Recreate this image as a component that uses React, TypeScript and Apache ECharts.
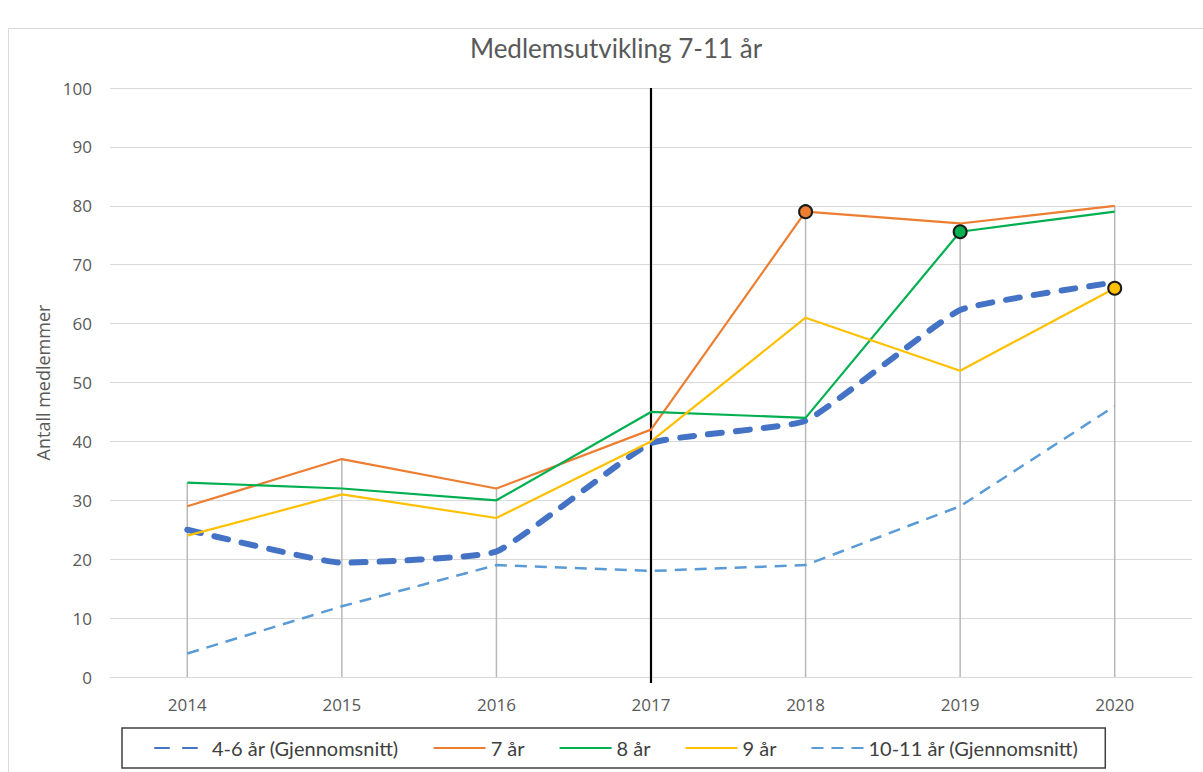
import React, { useEffect, useRef } from "react";
import * as echarts from "echarts";

const years = ["2014", "2015", "2016", "2017", "2018", "2019", "2020"];
const avg46 = [25, 19.4, 21.3, 39.7, 43.5, 62.3, 67];
const age7 = [29, 37, 32, 42, 79, 77, 80];
const age8 = [33, 32, 30, 45, 44, 75.6, 79];
const age9 = [24, 31, 27, 40, 61, 52, 66];
const avg1011 = [4, 12, 19, 18, 19, 29, 46];
const yMin = 0;
const yMax = 100;
const yInterval = 10;
const dividerYear = "2017";
const markIndex7 = 4;
const markIndex8 = 5;
const markIndex9 = 6;

const names = ["4-6 år (Gjennomsnitt)", "7 år", "8 år", "9 år", "10-11 år (Gjennomsnitt)"];
const colors = ["#4472C4", "#ED7D31", "#00B050", "#FFC000", "#5B9BD5"];

function withMarker(values: number[], idx: number, color: string) {
  return values.map((v, i) =>
    i === idx
      ? {
          value: v,
          symbol: "circle",
          symbolSize: 13,
          itemStyle: { color, borderColor: "#1a1a1a", borderWidth: 2, opacity: 1 },
        }
      : v
  );
}

export default function App() {
  const ref = useRef<HTMLDivElement>(null);
  useEffect(() => {
    if (!ref.current) return;
    const chart = echarts.init(ref.current, undefined, { renderer: "svg" });
    const maxPerYear = years.map((_, i) =>
      Math.max(avg46[i], age7[i], age8[i], age9[i], avg1011[i])
    );
    const dividerIndex = years.indexOf(dividerYear);
    const font = "Open Sans, sans-serif";
    chart.setOption({
      animation: false,
      backgroundColor: "#fff",
      title: {
        text: "Medlemsutvikling 7-11 år",
        left: 611,
        textAlign: "center",
        top: 30,
        textStyle: { fontFamily: "Lato, sans-serif", fontSize: 26, fontWeight: "normal", color: "#595959" },
      },
      graphic: [
        {
          type: "rect",
          shape: { x: 8.5, y: 28.5, width: 1200, height: 760 },
          style: { fill: "none", stroke: "#D9D9D9", lineWidth: 1 },
          silent: true,
          z: -1,
        },
      ],
      grid: { left: 110, right: 11, top: 88, bottom: 95, containLabel: false },
      legend: {
        data: names,
        left: 122,
        top: 728,
        padding: [10, 27, 10, 32],
        itemGap: 34,
        itemWidth: 52,
        itemHeight: 18,
        borderColor: "#404040",
        borderWidth: 1.5,
        itemStyle: { opacity: 0, borderWidth: 0 },
        textStyle: { fontFamily: "Lato, sans-serif", fontSize: 20, color: "#404040" },
      },
      xAxis: {
        type: "category",
        data: years,
        boundaryGap: true,
        axisLine: { show: true, lineStyle: { color: "#D9D9D9", width: 1 } },
        axisTick: { show: false },
        axisLabel: { fontFamily: font, fontSize: 17, color: "#595959", margin: 19 },
        splitLine: { show: false },
      },
      yAxis: {
        type: "value",
        min: yMin,
        max: yMax,
        interval: yInterval,
        name: "Antall medlemmer",
        nameLocation: "middle",
        nameGap: 50,
        nameTextStyle: { fontFamily: font, fontSize: 18, color: "#595959" },
        axisLine: { show: false },
        axisTick: { show: false },
        axisLabel: { fontFamily: font, fontSize: 17, color: "#595959", margin: 18 },
        splitLine: { lineStyle: { color: "#D9D9D9", width: 1 } },
      },
      series: [
        {
          name: "drop",
          type: "bar",
          data: maxPerYear,
          barWidth: 1.5,
          itemStyle: { color: "#B8B8B8" },
          silent: true,
          z: 1,
        },
        {
          name: "divider",
          type: "custom",
          silent: true,
          z: 2,
          data: [[dividerIndex, yMax]],
          renderItem: (params: any, api: any) => {
            const top = api.coord([api.value(0), yMax]);
            const bottom = api.coord([api.value(0), yMin]);
            return {
              type: "line",
              shape: { x1: top[0], y1: top[1], x2: bottom[0], y2: bottom[1] + 6 },
              style: { stroke: "#000", lineWidth: 2.2 },
            };
          },
        },
        {
          name: names[0],
          type: "line",
          data: avg46,
          smooth: 0.12,
          symbol: "none",
          lineStyle: { color: colors[0], width: 6, type: [14, 14], cap: "round" },
          itemStyle: { color: colors[0] },
          z: 3,
        },
        {
          name: names[1],
          type: "line",
          data: withMarker(age7, markIndex7, colors[1]),
          symbol: "none",
          lineStyle: { color: colors[1], width: 2.2 },
          itemStyle: { color: colors[1] },
          z: 4,
        },
        {
          name: names[2],
          type: "line",
          data: withMarker(age8, markIndex8, colors[2]),
          symbol: "none",
          lineStyle: { color: colors[2], width: 2.2 },
          itemStyle: { color: colors[2] },
          z: 4,
        },
        {
          name: names[3],
          type: "line",
          data: withMarker(age9, markIndex9, colors[3]),
          symbol: "none",
          lineStyle: { color: colors[3], width: 2.2 },
          itemStyle: { color: colors[3] },
          z: 4,
        },
        {
          name: names[4],
          type: "line",
          data: avg1011,
          symbol: "none",
          lineStyle: { color: colors[4], width: 2.5, type: [12, 8] },
          itemStyle: { color: colors[4] },
          z: 3,
        },
      ],
    });
    return () => chart.dispose();
  }, []);
  return (
    <div
      ref={ref}
      style={{ position: "fixed", left: 0, top: 0, width: 1203, height: 772, background: "#fff" }}
    />
  );
}
